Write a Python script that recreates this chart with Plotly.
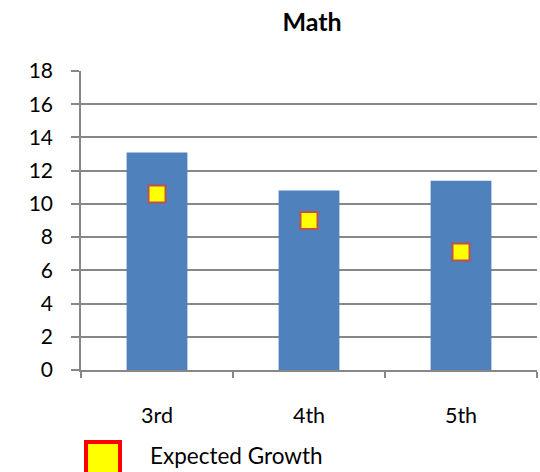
import plotly.graph_objects as go

categories = ["3rd", "4th", "5th"]
actual_growth = [13.1, 10.8, 11.4]
expected_growth = [10.6, 9.0, 7.1]
y_ticks = list(range(0, 19, 2))

W, H = 540, 472
L, R, T, B = 81, 3, 71, 102
pw, ph = W - L - R, H - T - B

def px_x(px):
    return (px - L) / pw

def px_y(py):
    return (H - B - py) / ph

FONT = "Lato"
GRID = "#878787"

fig = go.Figure()
fig.add_trace(go.Bar(
    x=categories, y=actual_growth, width=0.4,
    marker=dict(color="#4F81BD", line=dict(width=0)),
    showlegend=False, name="Growth"))
fig.add_trace(go.Scatter(
    x=categories, y=expected_growth, mode="markers",
    marker=dict(symbol="square", size=17, color="#FFFF00",
                line=dict(color="#C0504D", width=2)),
    showlegend=False, name="Expected Growth"))

fig.update_layout(
    width=W, height=H,
    margin=dict(l=L, r=R, t=T, b=B),
    plot_bgcolor="white", paper_bgcolor="white",
    font=dict(family=FONT, size=21, color="black"),
    title=dict(text="<b>Math</b>", x=312 / W, xanchor="center",
               y=1 - 22 / H, yanchor="middle",
               font=dict(family=FONT, size=25, color="black")),
    bargap=0.6,
)
fig.update_yaxes(range=[0, 18], tickvals=y_ticks, showgrid=True,
                 gridcolor=GRID, gridwidth=1.5, showline=True,
                 linecolor=GRID, linewidth=1.5, ticks="outside",
                 ticklen=8, tickcolor=GRID, tickwidth=1.5,
                 ticklabelstandoff=14, zeroline=False,
                 tickfont=dict(size=21))
fig.update_xaxes(range=[-0.5, 2.5], showline=True, linecolor=GRID,
                 linewidth=1.5, ticks="outside", tickson="boundaries",
                 ticklen=6, tickcolor=GRID, tickwidth=1.5,
                 ticklabelstandoff=25, showgrid=False,
                 tickfont=dict(size=21.5))

# custom legend
fig.add_shape(type="rect", xref="paper", yref="paper",
              x0=px_x(86), x1=px_x(120), y0=px_y(442), y1=px_y(478),
              fillcolor="#FFFF00", line=dict(color="#FF0000", width=4))
fig.add_annotation(xref="paper", yref="paper", x=px_x(148),
                   y=px_y(455), xanchor="left", yanchor="middle",
                   text="Expected Growth", showarrow=False,
                   font=dict(family=FONT, size=22.5, color="black"))

fig.write_html("out.html", config={"displayModeBar": False},
               post_script="document.body.style.margin='0';document.body.style.overflow='hidden';")
